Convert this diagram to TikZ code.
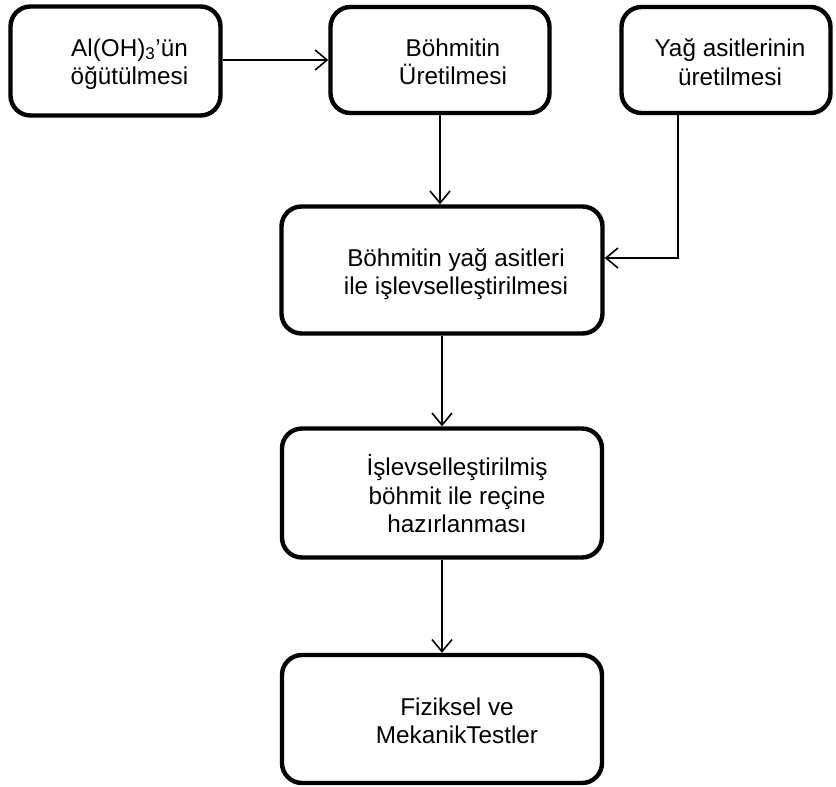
\documentclass[tikz,border=0pt]{standalone}
\usepackage{fontspec}
\setmainfont{Liberation Sans}
\usetikzlibrary{arrows.meta}
\begin{document}
\begin{tikzpicture}[x=1pt,y=-1pt,
  box/.style={draw,line width=4.4pt,rounded corners=20pt,inner sep=0pt},
  txt/.style={align=center,font=\fontsize{24.3}{28.5}\selectfont,inner sep=0pt},
  arr/.style={line width=1.6pt,-{Straight Barb[length=12pt,width=20pt,line width=1.6pt]}}]
\useasboundingbox (0,0) rectangle (836,787);
\node[box,minimum width=210pt,minimum height=109pt] (b1) at (115.5,61) {};
\node[box,minimum width=219pt,minimum height=106pt] (b2) at (440,60) {};
\node[box,minimum width=209pt,minimum height=106pt] (b3) at (726,60) {};
\node[box,minimum width=321pt,minimum height=127pt] (b4) at (442,270) {};
\node[box,minimum width=320pt,minimum height=129pt] (b5) at (442,493) {};
\node[box,minimum width=320pt,minimum height=128pt] (b6) at (442,719) {};
\node[txt] (t1) at (129.5,64) {Al(OH)\textsubscript{3}’ün\\öğütülmesi};
\node[txt] (t2) at (453,62) {Böhmitin\\Üretilmesi};
\node[txt] (t3) at (730,62) {Yağ asitlerinin\\üretilmesi};
\node[txt] (t4) at (456,274) {Böhmitin yağ asitleri\\ile işlevselleştirilmesi};
\node[txt] (t5) at (457,494) {İşlevselleştirilmiş\\böhmit ile reçine\\hazırlanması};
\node[txt] (t6) at (457,721) {Fiziksel ve\\MekanikTestler};
\coordinate (c3) at (678,258);
\draw[arr] (b1.east |- 0,60) -- (b2.west |- 0,60);
\draw[arr] (b2.south) -- (b2.south |- b4.north);
\draw[arr] (b3.south -| c3) |- (c3 -| b4.east);
\draw[arr] (b4.south) -- (b5.north);
\draw[arr] (b5.south) -- (b6.north);
\end{tikzpicture}
\end{document}
